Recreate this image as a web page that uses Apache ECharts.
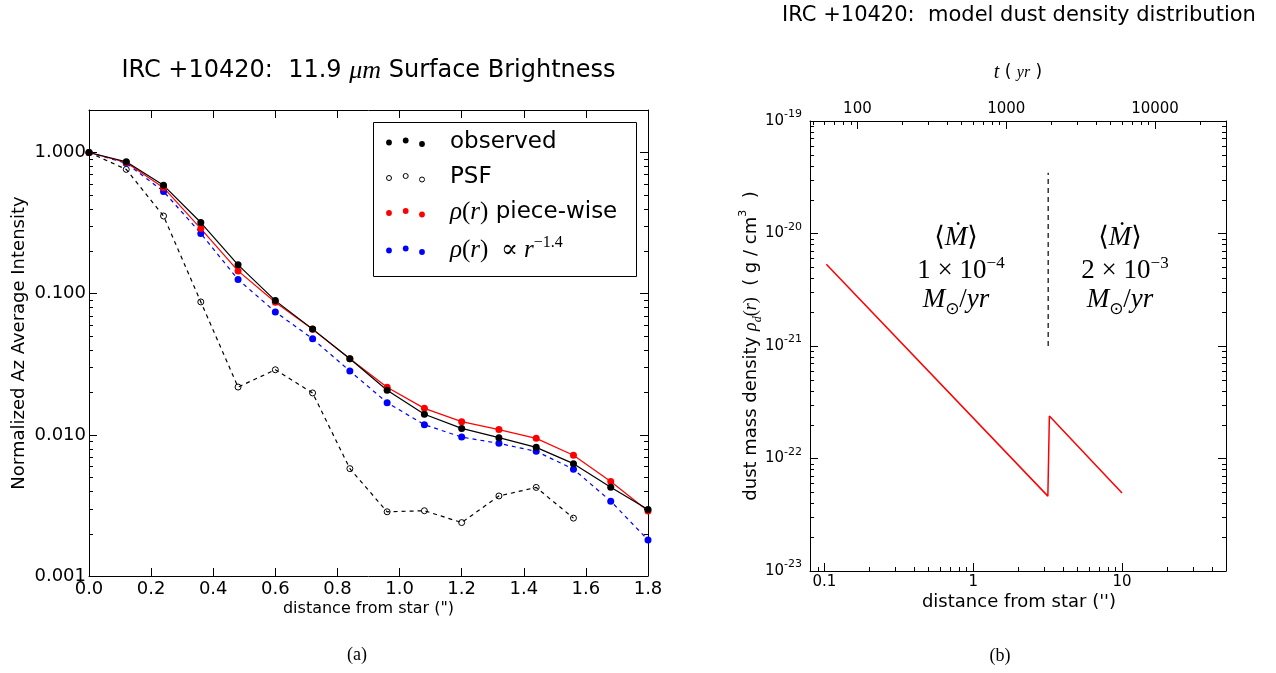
<!DOCTYPE html>
<html>
<head>
<meta charset="utf-8">
<script src="https://cdn.jsdelivr.net/npm/echarts@6/dist/echarts.min.js"></script>
<style>
  html, body { margin: 0; padding: 0; background: #fff; }
  #chart { width: 1276px; height: 673px; }
</style>
</head>
<body>
<div id="chart"></div>
<script>
const SANS = "'DejaVu Sans', sans-serif";
const SERIF = "'Liberation Serif', 'DejaVu Serif', serif";

// (a) azimuthally averaged 11.9 micron profiles, normalised to the peak
const radius = [0, 0.12, 0.24, 0.36, 0.48, 0.60, 0.72, 0.84, 0.96, 1.08, 1.20, 1.32, 1.44, 1.56, 1.68, 1.80];
const observed = [1.0, 0.86, 0.585, 0.319, 0.160, 0.0893, 0.0561, 0.0346, 0.0207, 0.0140, 0.0111, 0.00955, 0.00815, 0.00625, 0.00426, 0.00296];
const pieceWise = [1.0, 0.85, 0.563, 0.289, 0.145, 0.0870, 0.0560, 0.0346, 0.0217, 0.0154, 0.0124, 0.0109, 0.00944, 0.00716, 0.00467, 0.00289];
const powerLaw = [1.0, 0.84, 0.53, 0.267, 0.126, 0.0743, 0.0479, 0.0283, 0.0169, 0.0118, 0.00964, 0.0087, 0.00764, 0.00571, 0.00339, 0.0018];
const psfRadius = [0, 0.12, 0.24, 0.36, 0.48, 0.60, 0.72, 0.84, 0.96, 1.08, 1.20, 1.32, 1.44, 1.56];
const psf = [1.0, 0.759, 0.355, 0.0874, 0.0218, 0.0289, 0.0198, 0.00576, 0.00285, 0.0029, 0.00239, 0.00369, 0.00424, 0.00257];

// (b) model dust density (g/cm^3): two power-law shells
const shellR = [0.103, 3.175, 3.25, 10];
const shellRho = [5.34e-21, 4.63e-23, 2.39e-22, 4.94e-23];
const boundaryR = [3.19, 3.19];
const boundaryRho = [1.0e-21, 3.47e-20];
const yrPerArcsec = 600;

const radiusRange = [0, 1.8];
const intensityRange = [0.001, 2];
const rRange = [0.08, 50];
const rhoRange = [1e-23, 1e-19];
const tRange = [rRange[0] * yrPerArcsec, rRange[1] * yrPerArcsec];

// the density axis runs in units of 1e-23 g/cm^3 so tick values stay well inside float rounding
const RHO_UNIT = 1e-23;
const RHO_EXP = -23;
const toUnit = v => v / RHO_UNIT;

const pairs = (xs, ys) => xs.map((x, i) => [x, ys[i]]);

// 2..9 x 10^k values strictly inside a log range
function minorLogValues(lo, hi) {
  const out = [];
  for (let e = Math.floor(Math.log10(lo)) - 1; e <= Math.ceil(Math.log10(hi)); e++) {
    for (let d = 2; d <= 9; d++) {
      const v = d * Math.pow(10, e);
      if (v > lo * 1.0001 && v < hi * 0.9999) out.push(v);
    }
  }
  return out;
}

const tickStyle = { stroke: '#000', lineWidth: 1 };
function minorTicks(xAxisIndex, yAxisIndex, data, side, len) {
  return {
    type: 'custom', xAxisIndex, yAxisIndex, silent: true, animation: false, z: 5,
    data,
    renderItem: (params, api) => {
      const cs = params.coordSys;
      const p = api.coord([api.value(0), api.value(1)]);
      if (side === 'y') {
        const y = Math.round(p[1]) + 0.5;
        return { type: 'group', children: [
          { type: 'line', shape: { x1: cs.x, y1: y, x2: cs.x + len, y2: y }, style: tickStyle },
          { type: 'line', shape: { x1: cs.x + cs.width - len, y1: y, x2: cs.x + cs.width, y2: y }, style: tickStyle }
        ] };
      }
      const x = Math.round(p[0]) + 0.5;
      const y0 = side === 'top' ? cs.y : cs.y + cs.height - len;
      return { type: 'line', shape: { x1: x, y1: y0, x2: x, y2: y0 + len }, style: tickStyle };
    }
  };
}

const line = { show: true, onZero: false, lineStyle: { color: '#000', width: 1 } };
const majorTick = { show: true, inside: true, length: 8, lineStyle: { color: '#000', width: 1 } };
const noSplit = { show: false };

function profileSeries(name, xs, ys, color, dashed, open) {
  return {
    name, type: 'line', xAxisIndex: 0, yAxisIndex: 0, animation: false,
    data: pairs(xs, ys),
    symbol: 'circle', symbolSize: open ? 6 : 7, showSymbol: true,
    lineStyle: { color, width: 1.2, type: dashed ? [4, 4] : 'solid' },
    itemStyle: open ? { color: 'rgba(0,0,0,0)', borderColor: color, borderWidth: 1 } : { color },
    emphasis: { disabled: true }
  };
}

// ---- text helpers
function txt(x, y, text, rich, extra) {
  return Object.assign({
    type: 'text', x, y, silent: true, z: 100,
    style: { text, rich, fill: '#000', align: 'center', verticalAlign: 'middle', fontFamily: SANS, fontSize: 16 }
  }, extra || {});
}
function plain(x, y, text, family, size, extra) {
  return Object.assign({
    type: 'text', x, y, silent: true, z: 100,
    style: { text, fill: '#000', align: 'center', verticalAlign: 'middle', fontFamily: family, fontSize: size }
  }, extra || {});
}

// legend
const legendRows = [
  { label: '{t|observed}', color: '#000', open: false, y: 142 },
  { label: '{t|PSF}', color: '#000', open: true, y: 177.5 },
  { label: '{m|ρ}{n|(}{m|r}{n|)}{t| piece-wise}', color: '#ff0000', open: false, y: 212.5 },
  { label: '{m|ρ}{n|(}{m|r}{n|)}{n|  ∝ }{m|r}{sup|−1.4}', color: '#0000ff', open: false, y: 250 }
];
const legendDotX = [389, 405.7, 422];
const legendDotDy = [0.5, -1.5, 2];
const legendRich = {
  m: { fontFamily: SERIF, fontStyle: 'italic', fontSize: 25, lineHeight: 30 },
  n: { fontFamily: SERIF, fontSize: 25, lineHeight: 30 },
  t: { fontFamily: SANS, fontSize: 23, lineHeight: 30 },
  sup: { fontFamily: SERIF, fontSize: 16, lineHeight: 14, verticalAlign: 'top' }
};
const legendGraphics = [
  { type: 'rect', silent: true, z: 90, shape: { x: 373.5, y: 122.5, width: 263, height: 154 }, style: { fill: '#fff', stroke: '#000', lineWidth: 1 } }
];
legendRows.forEach(row => {
  legendDotX.forEach((x, i) => {
    legendGraphics.push({
      type: 'circle', silent: true, z: 95,
      shape: { cx: x, cy: row.y + legendDotDy[i], r: row.open ? 2.5 : 2.9 },
      style: row.open ? { fill: 'none', stroke: row.color, lineWidth: 1 } : { fill: row.color }
    });
  });
  legendGraphics.push({
    type: 'text', x: 450, y: row.y, silent: true, z: 100,
    style: { text: row.label, rich: legendRich, fill: '#000', align: 'left', verticalAlign: 'middle', fontFamily: SANS, fontSize: 23 }
  });
});

// mass-loss rate labels of the two shells
const annRich = {
  m: { fontFamily: SERIF, fontStyle: 'italic', fontSize: 27, lineHeight: 32 },
  n: { fontFamily: SERIF, fontSize: 27, lineHeight: 32 },
  sup: { fontFamily: SERIF, fontSize: 17, lineHeight: 16, verticalAlign: 'top' }
};
const annRich3 = {
  m: { fontFamily: SERIF, fontStyle: 'italic', fontSize: 27, lineHeight: 36 },
  n: { fontFamily: SERIF, fontSize: 27, lineHeight: 36 },
  sub: { fontFamily: SANS, fontSize: 17, lineHeight: 18, verticalAlign: 'bottom' }
};
const massLoss = [
  { x: 956, mant: '1', exp: '−4' },
  { x: 1120, mant: '2', exp: '−3' }
];
const annGraphics = [];
massLoss.forEach(c => {
  annGraphics.push(txt(c.x, 238, '{n|⟨}{m|Ṁ}{n|⟩}', annRich));
  annGraphics.push(txt(c.x + 5, 271, '{n|' + c.mant + ' × 10}{sup|' + c.exp + '}', annRich));
  annGraphics.push(txt(c.x, 300, '{m|M}{sub|⊙}{n|/}{m|yr}', annRich3));
});

const option = {
  backgroundColor: '#fff',
  animation: false,
  grid: [
    { left: 89, top: 110, width: 559, height: 466, containLabel: false, outerBoundsMode: 'none' },
    { left: 810, top: 121, width: 416, height: 450, containLabel: false, outerBoundsMode: 'none' }
  ],
  xAxis: [
    { gridIndex: 0, type: 'value', position: 'bottom', min: radiusRange[0], max: radiusRange[1], interval: 0.2,
      axisLine: line, axisTick: majorTick, splitLine: noSplit,
      axisLabel: { formatter: v => v.toFixed(1), fontFamily: SANS, fontSize: 18, color: '#000', margin: 4 } },
    { gridIndex: 0, type: 'value', position: 'top', min: radiusRange[0], max: radiusRange[1], interval: 0.2,
      axisLine: line, axisTick: majorTick, splitLine: noSplit, axisLabel: { show: false } },
    { gridIndex: 1, type: 'log', position: 'bottom', min: rRange[0], max: rRange[1],
      axisLine: line, axisTick: majorTick, splitLine: noSplit,
      axisLabel: { formatter: v => (v < 1 ? v.toFixed(1) : String(Math.round(v))), showMinLabel: false, showMaxLabel: false,
        fontFamily: SANS, fontSize: 15, color: '#000', margin: 4 } },
    { gridIndex: 1, type: 'log', position: 'top', min: tRange[0], max: tRange[1],
      axisLine: line, axisTick: majorTick, splitLine: noSplit,
      axisLabel: { formatter: v => String(Math.round(v)), showMinLabel: false, showMaxLabel: false,
        fontFamily: SANS, fontSize: 15, color: '#000', margin: 4 } }
  ],
  yAxis: [
    { gridIndex: 0, type: 'log', position: 'left', min: intensityRange[0], max: intensityRange[1],
      axisLine: line, axisTick: majorTick, splitLine: noSplit,
      axisLabel: { formatter: v => v.toFixed(3), showMaxLabel: false, fontFamily: SANS, fontSize: 18, color: '#000', margin: 3 } },
    { gridIndex: 0, type: 'log', position: 'right', min: intensityRange[0], max: intensityRange[1],
      axisLine: line, axisTick: majorTick, splitLine: noSplit, axisLabel: { show: false } },
    { gridIndex: 1, type: 'log', position: 'left', min: toUnit(rhoRange[0]), max: toUnit(rhoRange[1]),
      axisLine: line, axisTick: majorTick, splitLine: noSplit,
      axisLabel: {
        formatter: v => '{b|10}{s|' + (Math.round(Math.log10(v)) + RHO_EXP) + '}',
        rich: {
          b: { fontFamily: SANS, fontSize: 15, lineHeight: 24, color: '#000' },
          s: { fontFamily: SANS, fontSize: 11, lineHeight: 11, verticalAlign: 'top', color: '#000' }
        },
        margin: 8 } },
    { gridIndex: 1, type: 'log', position: 'right', min: toUnit(rhoRange[0]), max: toUnit(rhoRange[1]),
      axisLine: line, axisTick: majorTick, splitLine: noSplit, axisLabel: { show: false } }
  ],
  series: [
    profileSeries('PSF', psfRadius, psf, '#000', true, true),
    profileSeries('power law', radius, powerLaw, '#0000ff', true, false),
    profileSeries('piece-wise', radius, pieceWise, '#ff0000', false, false),
    profileSeries('observed', radius, observed, '#000', false, false),
    minorTicks(0, 0, minorLogValues(intensityRange[0], intensityRange[1]).map(v => [0.9, v]), 'y', 4),
    minorTicks(2, 2, minorLogValues(toUnit(rhoRange[0]), toUnit(rhoRange[1])).map(v => [1, v]), 'y', 4),
    minorTicks(2, 2, minorLogValues(rRange[0], rRange[1]).map(v => [v, 100]), 'bottom', 4),
    minorTicks(3, 2, minorLogValues(tRange[0], tRange[1]).map(v => [v, 100]), 'top', 4),
    { name: 'density', type: 'line', xAxisIndex: 2, yAxisIndex: 2, animation: false,
      data: pairs(shellR, shellRho.map(toUnit)), showSymbol: false, symbol: 'none',
      lineStyle: { color: '#ff0000', width: 1.5 }, emphasis: { disabled: true } },
    { name: 'boundary', type: 'line', xAxisIndex: 2, yAxisIndex: 2, animation: false,
      data: pairs(boundaryR, boundaryRho.map(toUnit)), showSymbol: false, symbol: 'none',
      lineStyle: { color: '#000', width: 1.2, type: [5, 4] }, emphasis: { disabled: true } }
  ],
  graphic: [
    txt(368.5, 71, '{t|IRC +10420:  11.9 }{m|μm}{t| Surface Brightness}', {
      t: { fontFamily: SANS, fontSize: 24 }, m: { fontFamily: SERIF, fontStyle: 'italic', fontSize: 26 } }),
    plain(19, 343, 'Normalized Az Average Intensity', SANS, 18, { rotation: Math.PI / 2 }),
    plain(368.5, 609, 'distance from star (")', SANS, 16),
    plain(357, 655, '(a)', SERIF, 18),
    plain(1000, 656, '(b)', SERIF, 18),
    plain(1019, 16, 'IRC +10420:  model dust density distribution', SANS, 21),
    txt(1018, 73, '{m|t}{p| ( }{s|yr}{p| )}', {
      m: { fontFamily: SERIF, fontStyle: 'italic', fontSize: 20 },
      p: { fontFamily: SANS, fontSize: 17 },
      s: { fontFamily: SERIF, fontStyle: 'italic', fontSize: 16 } }),
    plain(1019, 602, "distance from star ('')", SANS, 18),
    txt(751, 346, '{t|dust mass density }{m|ρ}{sub|d}{n|(}{m|r}{n|)}{t|  ( g / cm}{sup|3}{t|  )}', {
      t: { fontFamily: SANS, fontSize: 18, lineHeight: 26 },
      m: { fontFamily: SERIF, fontStyle: 'italic', fontSize: 18, lineHeight: 26 },
      n: { fontFamily: SERIF, fontSize: 18, lineHeight: 26 },
      sub: { fontFamily: SERIF, fontStyle: 'italic', fontSize: 12, lineHeight: 12, verticalAlign: 'bottom' },
      sup: { fontFamily: SANS, fontSize: 11, lineHeight: 12, verticalAlign: 'top' }
    }, { rotation: Math.PI / 2 })
  ].concat(legendGraphics, annGraphics)
};

const chart = echarts.init(document.getElementById('chart'), null, { renderer: 'canvas' });
chart.setOption(option);
</script>
</body>
</html>
